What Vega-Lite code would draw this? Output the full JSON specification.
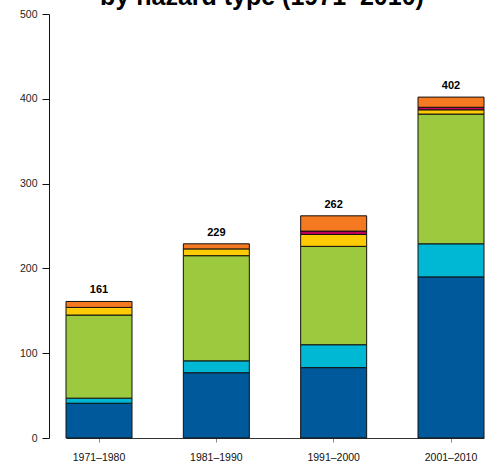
{
  "$schema": "https://vega.github.io/schema/vega-lite/v6.json",
  "autosize": "none",
  "padding": {"left": 66, "top": 14, "right": 3, "bottom": 33},
  "width": 418,
  "height": 424,
  "background": "white",
  "view": {"stroke": null},
  "title": {
    "text": "by hazard type (1971–2010)",
    "font": "Liberation Sans",
    "fontSize": 25,
    "fontWeight": "bold",
    "color": "#000000",
    "anchor": "middle",
    "frame": "group",
    "baseline": "alphabetic",
    "offset": 0,
    "dx": -13,
    "dy": 21
  },
  "data": {
    "values": [
      {"period": "1971–1980", "hazard": "Flood", "seq": 1, "count": 41},
      {"period": "1971–1980", "hazard": "Storm", "seq": 2, "count": 6},
      {"period": "1971–1980", "hazard": "Drought", "seq": 3, "count": 98},
      {"period": "1971–1980", "hazard": "Extreme temperature", "seq": 4, "count": 9},
      {"period": "1971–1980", "hazard": "Wildfire", "seq": 6, "count": 7},
      {"period": "1981–1990", "hazard": "Flood", "seq": 1, "count": 77},
      {"period": "1981–1990", "hazard": "Storm", "seq": 2, "count": 14},
      {"period": "1981–1990", "hazard": "Drought", "seq": 3, "count": 124},
      {"period": "1981–1990", "hazard": "Extreme temperature", "seq": 4, "count": 8},
      {"period": "1981–1990", "hazard": "Wildfire", "seq": 6, "count": 6},
      {"period": "1991–2000", "hazard": "Flood", "seq": 1, "count": 83},
      {"period": "1991–2000", "hazard": "Storm", "seq": 2, "count": 27},
      {"period": "1991–2000", "hazard": "Drought", "seq": 3, "count": 116},
      {"period": "1991–2000", "hazard": "Extreme temperature", "seq": 4, "count": 14},
      {"period": "1991–2000", "hazard": "Mass movement", "seq": 5, "count": 4},
      {"period": "1991–2000", "hazard": "Wildfire", "seq": 6, "count": 18},
      {"period": "2001–2010", "hazard": "Flood", "seq": 1, "count": 190},
      {"period": "2001–2010", "hazard": "Storm", "seq": 2, "count": 39},
      {"period": "2001–2010", "hazard": "Drought", "seq": 3, "count": 153},
      {"period": "2001–2010", "hazard": "Extreme temperature", "seq": 4, "count": 5},
      {"period": "2001–2010", "hazard": "Mass movement", "seq": 5, "count": 3},
      {"period": "2001–2010", "hazard": "Wildfire", "seq": 6, "count": 12}
    ]
  },
  "encoding": {
    "x": {
      "field": "period",
      "type": "nominal",
      "sort": null,
      "scale": {"paddingInner": 0.4375, "paddingOuter": 0},
      "axis": {
        "title": null,
        "labelAngle": 0,
        "labelFont": "Liberation Sans",
        "labelFontSize": 10.5,
        "labelColor": "#111111",
        "labelPadding": 10,
        "tickSize": 4,
        "tickColor": "#888888",
        "domainColor": "#333333",
        "domainWidth": 1,
        "grid": false
      }
    }
  },
  "layer": [
    {
      "mark": {"type": "bar", "stroke": "#111111", "strokeWidth": 1},
      "encoding": {
        "y": {
          "field": "count",
          "type": "quantitative",
          "aggregate": "sum",
          "stack": "zero",
          "scale": {"domain": [0, 500], "nice": false},
          "axis": {
            "title": null,
            "values": [0, 100, 200, 300, 400, 500],
            "offset": 17,
            "tickSize": 7,
            "tickColor": "#111111",
            "domainColor": "#111111",
            "labelFont": "Liberation Sans",
            "labelFontSize": 10.5,
            "labelColor": "#222222",
            "labelPadding": 5,
            "grid": false
          }
        },
        "order": {"field": "seq", "type": "quantitative", "sort": "ascending"},
        "color": {
          "field": "hazard",
          "type": "nominal",
          "legend": null,
          "scale": {
            "domain": ["Flood", "Storm", "Drought", "Extreme temperature", "Mass movement", "Wildfire"],
            "range": ["#00599b", "#00b8d4", "#9dc93e", "#ffcb05", "#c2005a", "#f47920"]
          }
        }
      }
    },
    {
      "transform": [{"aggregate": [{"op": "sum", "field": "count", "as": "total"}], "groupby": ["period"]}],
      "mark": {"type": "text", "baseline": "bottom", "dy": -6, "font": "Liberation Sans", "fontSize": 11, "fontWeight": "bold", "color": "#000000"},
      "encoding": {
        "y": {"field": "total", "type": "quantitative"},
        "text": {"field": "total", "type": "quantitative"}
      }
    }
  ]
}
